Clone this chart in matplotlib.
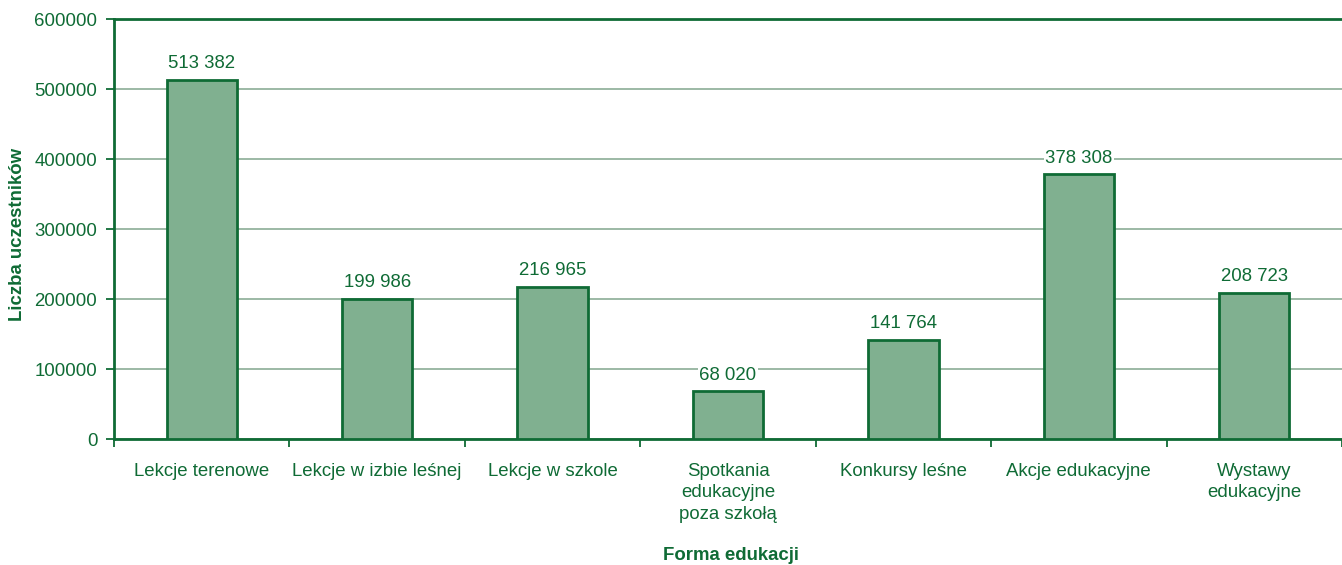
import matplotlib
matplotlib.use('Agg')
import matplotlib.pyplot as plt
import numpy as np

categories = ['Lekcje terenowe', 'Lekcje w izbie leśnej', 'Lekcje w szkole',
              'Spotkania\nedukacyjne\npoza szkołą', 'Konkursy leśne',
              'Akcje edukacyjne', 'Wystawy\nedukacyjne']
participants = [513382, 199986, 216965, 68020, 141764, 378308, 208723]
value_labels = ['513 382', '199 986', '216 965', '68 020', '141 764', '378 308', '208 723']
y_ticks = [0, 100000, 200000, 300000, 400000, 500000, 600000]

dark_green = '#0f6b35'
bar_fill = '#80b090'
grid_col = '#94b39e'

plt.rcParams['font.family'] = ['Liberation Sans', 'DejaVu Sans']

fig = plt.figure(figsize=(13.42, 5.65), dpi=100)
ax = fig.add_axes([114 / 1342, 1 - 439 / 565, 1228 / 1342, 420 / 565])

x = np.arange(len(categories))
ax.bar(x, participants, width=0.40, color=bar_fill, edgecolor=dark_green,
       linewidth=2, zorder=3)

for xi, v, lab in zip(x, participants, value_labels):
    ax.annotate(lab, (xi, v), xytext=(0, 5.5), textcoords='offset points',
                ha='center', va='bottom', fontsize=13.4, color=dark_green,
                bbox=dict(facecolor='white', edgecolor='none', pad=1),
                zorder=4)

ax.set_ylim(0, 600000)
ax.set_xlim(-0.494, -0.494 + 6.95)
ax.set_yticks(y_ticks)
ax.set_yticklabels([str(t) for t in y_ticks], fontsize=13.4, color=dark_green)
ax.yaxis.grid(True, color=grid_col, linewidth=1.3, zorder=0)
ax.set_axisbelow(True)

# tick marks on category boundaries, labels on centres
ax.set_xticks(np.arange(len(categories) + 1) - 0.5)
ax.set_xticklabels([])
ax.set_xticks(x, minor=True)
ax.set_xticklabels(categories, minor=True, fontsize=13.4, color=dark_green,
                   linespacing=1.35, va='top')
ax.tick_params(axis='x', which='minor', length=0, pad=17)
ax.tick_params(axis='x', which='major', length=6, width=1.3, color=dark_green,
               direction='out')
ax.tick_params(axis='y', length=6, width=1.3, color=dark_green, direction='out', pad=6)

for side in ['left', 'bottom', 'top']:
    ax.spines[side].set_color(dark_green)
    ax.spines[side].set_linewidth(2)
ax.spines['right'].set_visible(False)

fig.text(18 / 1342, 1 - 234 / 565, 'Liczba uczestników', rotation=90,
         ha='center', va='center', fontsize=13.4, fontweight='bold', color=dark_green)
fig.text(731 / 1342, 1 - 556 / 565, 'Forma edukacji', ha='center', va='center',
         fontsize=13.4, fontweight='bold', color=dark_green)

plt.savefig('out.png', dpi=100)
plt.close()
